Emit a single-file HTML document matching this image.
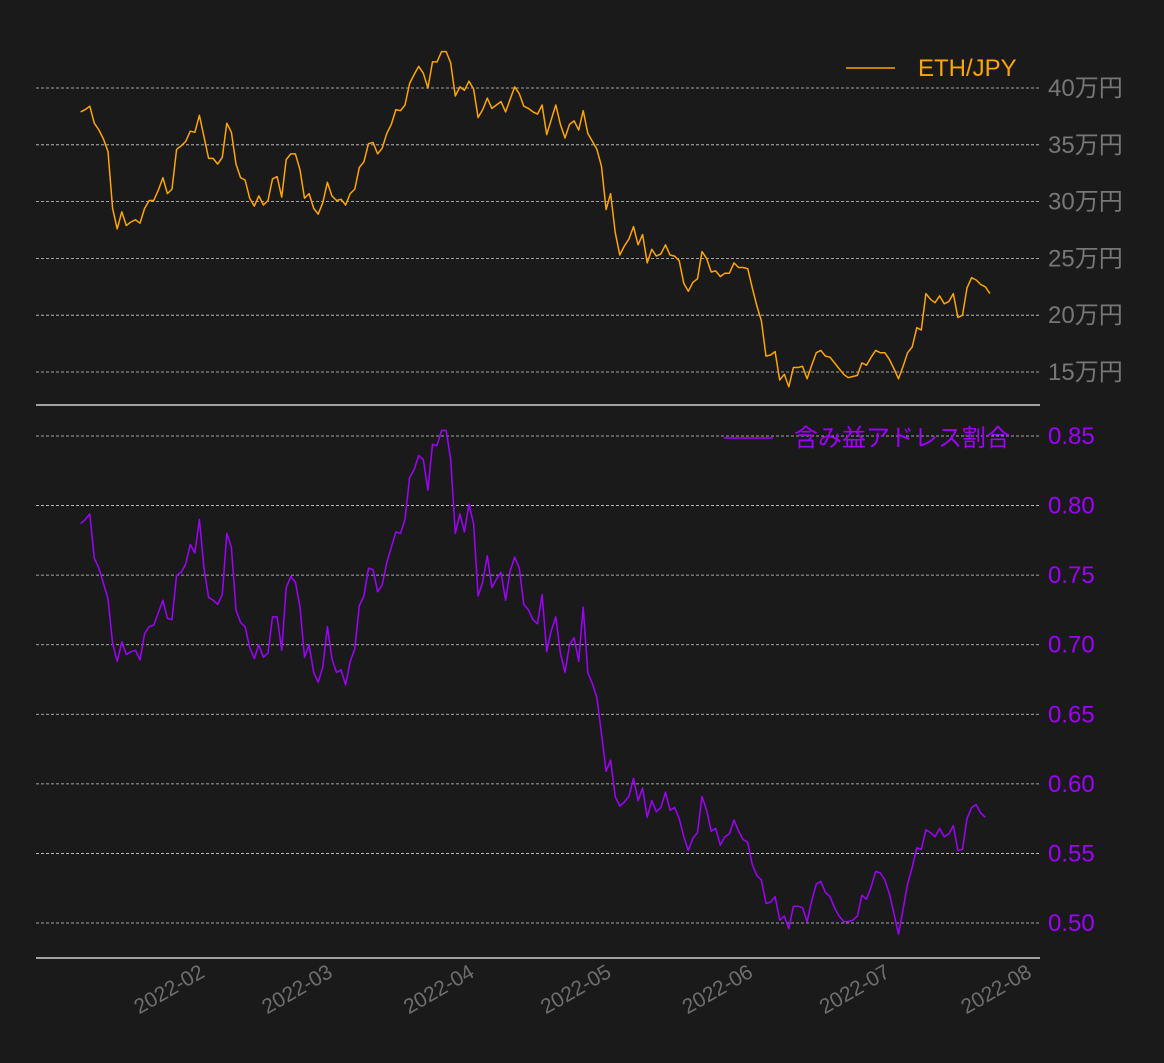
<!DOCTYPE html>
<html><head><meta charset="utf-8">
<style>
html,body{margin:0;padding:0;background:#1a1a1a;}
svg{display:block;}
text{font-family:"Liberation Sans","Noto Sans CJK JP",sans-serif;}
</style></head>
<body>
<svg id="chart" width="1164" height="1063" viewBox="0 0 1164 1063" xmlns="http://www.w3.org/2000/svg">
<rect x="0" y="0" width="1164" height="1063" fill="#1a1a1a"/>
<g id="topPanel"></g>
<g id="botPanel"></g>
<g id="xAxisG"></g>
</svg>
<script>
const startDate = "2022-01-05";
const ethValues = [37.9,38.1,38.4,36.9,36.3,35.5,34.4,29.4,27.6,29.1,27.9,28.2,28.4,28.1,29.4,30.1,30.1,31.0,32.1,30.7,31.1,34.6,34.9,35.3,36.2,36.1,37.6,35.7,33.8,33.8,33.3,33.9,36.9,36.1,33.3,32.1,31.9,30.3,29.6,30.5,29.7,30.1,32.0,32.2,30.4,33.7,34.2,34.2,32.8,30.3,30.7,29.4,28.9,29.9,31.7,30.5,30.1,30.2,29.7,30.7,31.1,33.0,33.5,35.1,35.2,34.2,34.7,36.0,36.8,38.1,38.0,38.5,40.4,41.2,41.9,41.3,40.0,42.3,42.3,43.2,43.2,42.2,39.3,40.1,39.8,40.6,39.9,37.4,38.1,39.1,38.2,38.5,38.8,37.9,39.0,40.1,39.5,38.4,38.2,37.9,37.7,38.5,35.9,37.2,38.5,36.8,35.6,36.8,37.1,36.3,38.0,36.0,35.3,34.6,33.1,29.3,30.7,27.3,25.3,26.1,26.7,27.8,26.2,27.1,24.6,25.8,25.2,25.4,26.2,25.3,25.2,24.8,22.8,22.1,22.9,23.2,25.6,25.0,23.8,23.9,23.4,23.7,23.7,24.6,24.2,24.2,24.1,22.4,20.8,19.5,16.4,16.5,16.8,14.3,14.8,13.7,15.4,15.4,15.5,14.4,15.6,16.7,16.9,16.4,16.3,15.8,15.3,14.8,14.5,14.6,14.7,15.8,15.6,16.3,16.9,16.7,16.7,16.1,15.3,14.4,15.5,16.7,17.2,18.9,18.7,21.9,21.4,21.1,21.7,21.0,21.2,21.9,19.8,20.0,22.4,23.3,23.1,22.7,22.5,21.9];
const ratioValues = [0.787,0.790,0.794,0.762,0.755,0.744,0.733,0.701,0.688,0.702,0.693,0.695,0.696,0.689,0.708,0.713,0.714,0.723,0.732,0.719,0.718,0.750,0.752,0.758,0.772,0.766,0.790,0.755,0.734,0.732,0.729,0.736,0.780,0.770,0.725,0.716,0.713,0.698,0.690,0.700,0.691,0.694,0.720,0.720,0.696,0.741,0.749,0.745,0.727,0.691,0.700,0.680,0.673,0.684,0.713,0.690,0.680,0.682,0.671,0.688,0.697,0.728,0.735,0.755,0.754,0.738,0.743,0.759,0.770,0.781,0.780,0.790,0.820,0.826,0.836,0.833,0.811,0.844,0.843,0.854,0.854,0.833,0.780,0.794,0.781,0.801,0.787,0.735,0.745,0.764,0.741,0.747,0.752,0.732,0.753,0.763,0.755,0.729,0.725,0.718,0.715,0.736,0.695,0.710,0.720,0.694,0.680,0.700,0.705,0.688,0.727,0.680,0.672,0.662,0.636,0.609,0.617,0.591,0.584,0.587,0.591,0.604,0.588,0.597,0.576,0.588,0.580,0.583,0.594,0.581,0.583,0.575,0.562,0.552,0.561,0.565,0.591,0.581,0.566,0.568,0.556,0.562,0.564,0.574,0.566,0.560,0.558,0.542,0.534,0.531,0.514,0.515,0.519,0.502,0.505,0.496,0.512,0.512,0.511,0.501,0.516,0.528,0.530,0.522,0.519,0.511,0.505,0.501,0.501,0.502,0.505,0.520,0.517,0.526,0.537,0.536,0.531,0.521,0.507,0.492,0.510,0.528,0.540,0.554,0.553,0.567,0.565,0.562,0.568,0.562,0.564,0.570,0.552,0.553,0.575,0.583,0.585,0.579,0.576];
const topTicks = [15,20,25,30,35,40];
const topTickLabels = ["15万円","20万円","25万円","30万円","35万円","40万円"];
const botTicks = [0.50,0.55,0.60,0.65,0.70,0.75,0.80,0.85];
const botTickLabels = ["0.50","0.55","0.60","0.65","0.70","0.75","0.80","0.85"];
const monthTicks = ["2022-02-01","2022-03-01","2022-04-01","2022-05-01","2022-06-01","2022-07-01","2022-08-01"];
const monthLabels = ["2022-02","2022-03","2022-04","2022-05","2022-06","2022-07","2022-08"];

const NS="http://www.w3.org/2000/svg";
const DAY=86400000;
const t0=Date.UTC(2022,1,1), t1=Date.UTC(2022,7,1);
function dms(s){const p=s.split("-");return Date.UTC(+p[0],+p[1]-1,+p[2]);}
function xScale(t){return 204+(t-t0)/(t1-t0)*(1031-204);}
function yTop(v){return 88+(40-v)*(372-88)/25;}
function yBot(v){return 436+(0.85-v)*(923-436)/0.35;}
function mk(tag,attrs,parent){const e=document.createElementNS(NS,tag);for(const k in attrs)e.setAttribute(k,attrs[k]);parent.appendChild(e);return e;}
const topG=document.getElementById('topPanel'), botG=document.getElementById('botPanel'), xaxG=document.getElementById('xAxisG');
const s0=dms(startDate);

function panel(g,ticks,labels,yf,color,labColor,vals,spineY,legend,legY,legX1,legTx){
  ticks.forEach((v,i)=>{
    const y=yf(v);
    const l=mk('line',{x1:36,x2:1040,y1:y,y2:y,stroke:'#cfcfcf','stroke-width':0.8,'stroke-dasharray':'3,2'},g);
    
    
    const t=mk('text',{x:1048,y:y+8,'font-size':24,fill:labColor},g);
    
    
    t.textContent=labels[i];
  });
  const sp=mk('line',{x1:36,x2:1040,y1:spineY,y2:spineY,stroke:'#d0d0d0','stroke-width':1.6},g);
  
  
  const pts=vals.map((v,i)=>xScale(s0+i*DAY).toFixed(1)+','+yf(v).toFixed(1)).join(' ');
  const pl=mk('polyline',{points:pts,fill:'none',stroke:color,'stroke-width':1.5,'stroke-linejoin':'round'},g);
  
  
  const ll=mk('line',{x1:legX1,x2:legX1+49,y1:legY,y2:legY,stroke:color,'stroke-width':1.5},g);
  
  
  const lt=mk('text',{x:legTx,y:legY+8,'font-size':24,fill:color},g);
  
  
  lt.textContent=legend;
}
panel(topG,topTicks,topTickLabels,yTop,'#ffa500','#777777',ethValues,405,'ETH/JPY',68,846,918);
panel(botG,botTicks,botTickLabels,yBot,'#a000ff','#a000ff',ratioValues,958,'含み益アドレス割合',438,724,794);

monthTicks.forEach((m,i)=>{
  const x=xScale(dms(m));
  const t=mk('text',{x:0,y:0,'font-size':21,fill:'#6e6e6e','text-anchor':'end',transform:`translate(${x+2},${976}) rotate(-30)`},xaxG);
  
  
  t.textContent=monthLabels[i];
});
</script>
</body></html>
